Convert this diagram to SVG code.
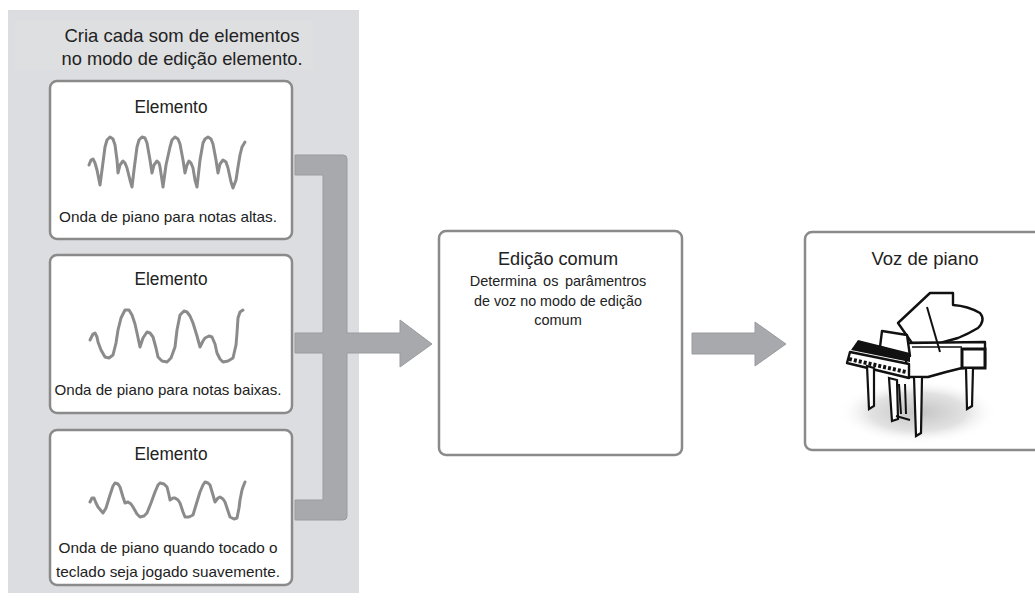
<svg xmlns="http://www.w3.org/2000/svg" width="1035" height="601" viewBox="0 0 1035 601">
  <style>
    .box { fill: #ffffff; stroke: #8a8a8a; stroke-width: 2.5; }
    .t { font-family: "Liberation Sans", Arial, sans-serif; fill: #222222; text-anchor: middle; }
    .h { font-size: 19px; }
    .ttl { font-size: 18px; }
    .cap { font-size: 15px; }
    .sub { font-size: 14.5px; }
    .wave { fill: none; stroke: #8b8b8b; stroke-width: 3; stroke-linejoin: round; stroke-linecap: round; }
    .bar { fill: #a8a9ac; stroke: #9a9b9e; stroke-width: 1; }
    .ink { stroke: #111111; stroke-width: 2.4; stroke-linejoin: round; fill: #ffffff; }
  </style>
  <defs>
    <radialGradient id="floor" cx="0.5" cy="0.5" r="0.5">
      <stop offset="0" stop-color="#c4c4c4"/>
      <stop offset="0.6" stop-color="#e2e2e2"/>
      <stop offset="1" stop-color="#ffffff" stop-opacity="0"/>
    </radialGradient>
  </defs>

  <rect width="1035" height="601" fill="#ffffff"/>

  <!-- element edit panel -->
  <g id="element-panel">
    <rect x="8" y="10" width="351" height="583" fill="#dcdde0"/>
    <rect x="15" y="20" width="298" height="50" fill="#dedfe1"/>
    <text class="t h" x="182" y="42" textLength="235" lengthAdjust="spacingAndGlyphs">Cria cada som de elementos</text>
    <text class="t h" x="182" y="65" textLength="241" lengthAdjust="spacingAndGlyphs">no modo de edição elemento.</text>
  </g>

  <!-- connectors -->
  <g id="connectors">
    <path class="bar" d="M295,155 H343 Q347,155 347,159 V333 H400 V320 L432,344 L400,367 V353 H347 V516 Q347,520 343,520 H295 V500 H323 V353 H295 V333 H323 V175 H295 Z"/>
    <path class="bar" d="M692,333 H755 V322 L786,344 L755,366 V354 H692 Z"/>
  </g>

  <g id="element-1">
    <rect class="box" x="50" y="81" width="242" height="158" rx="7"/>
    <text class="t ttl" x="171" y="113" textLength="73" lengthAdjust="spacingAndGlyphs">Elemento</text>
    <polyline class="wave" points="89,165 91,160 93,159 95,163 97,170 100,185 102,170 105,147 107,140 110,137 113,139 115,145 117,160 118,173 120,165 123,161 125,163 127,168 130,180 132,187 134,170 137,147 139,140 142,137 145,138 147,143 150,160 152,173 154,165 157,161 159,163 160,167 162,180 163,187 166,165 170,147 172,140 175,137 178,139 180,144 183,160 185,173 187,165 189,161 191,163 193,168 195,180 197,187 200,160 203,143 205,139 208,137 211,139 213,144 216,160 218,173 220,164 223,160 226,162 228,168 231,182 233,188 236,180 238,167 240,155 242,147 245,142"/>
    <text class="t cap" x="168" y="222" textLength="218" lengthAdjust="spacingAndGlyphs">Onda de piano para notas altas.</text>
  </g>

  <g id="element-2">
    <rect class="box" x="50" y="255" width="242" height="158" rx="7"/>
    <text class="t ttl" x="171" y="285" textLength="73" lengthAdjust="spacingAndGlyphs">Elemento</text>
    <polyline class="wave" points="90,340 93,334 95,333 97,337 98,342 101,350 105,357 109,358 113,355 116,343 118,330 121,318 125,310 129,310 132,315 135,324 137,333 140,347 143,338 147,332 150,333 153,337 156,348 158,357 162,361 167,362 171,358 175,347 177,330 180,315 184,311 187,312 190,316 193,323 197,336 200,347 203,341 205,338 209,336 212,337 215,344 217,353 220,359 223,362 228,361 233,358 236,345 237,333 238,318 240,312 243,310"/>
    <text class="t cap" x="168" y="395" textLength="227" lengthAdjust="spacingAndGlyphs">Onda de piano para notas baixas.</text>
  </g>

  <g id="element-3">
    <rect class="box" x="50" y="430" width="242" height="155" rx="7"/>
    <text class="t ttl" x="171" y="460" textLength="73" lengthAdjust="spacingAndGlyphs">Elemento</text>
    <polyline class="wave" points="90,502 92,498 94,498 96,503 98,507 103,513 106,508 110,495 113,486 115,483 118,484 120,487 123,497 125,503 128,502 131,504 133,507 137,514 140,517 144,516 147,513 151,503 155,492 158,485 160,483 164,484 167,487 169,495 170,500 173,498 175,498 178,500 180,503 183,512 185,517 189,517 193,515 196,505 200,492 203,485 205,482 208,483 210,485 213,495 215,502 218,498 220,497 223,499 225,502 228,511 230,517 234,519 237,518 239,508 240,500 242,490 243,487 245,482"/>
    <text class="t cap" x="168" y="553" textLength="219" lengthAdjust="spacingAndGlyphs">Onda de piano quando tocado  o</text>
    <text class="t cap" x="168" y="577" textLength="224" lengthAdjust="spacingAndGlyphs">teclado seja jogado suavemente.</text>
  </g>

  <g id="common-edit">
    <rect class="box" x="439" y="231" width="243" height="224" rx="7"/>
    <text class="t h" x="558" y="265" textLength="120" lengthAdjust="spacingAndGlyphs">Edição comum</text>
    <text class="t sub" x="558" y="286" word-spacing="2.5">Determina os parâmentros</text>
    <text class="t sub" x="558" y="306" textLength="168" lengthAdjust="spacingAndGlyphs">de voz no modo de edição</text>
    <text class="t sub" x="558" y="325">comum</text>
  </g>

  <g id="piano-voice">
    <rect class="box" x="805" y="232" width="245" height="218" rx="7"/>
    <text class="t ttl" x="925" y="265" textLength="107" lengthAdjust="spacingAndGlyphs">Voz de piano</text>
    <!-- grand piano drawing -->
    <g id="piano">
      <ellipse cx="918" cy="412" rx="80" ry="32" fill="url(#floor)"/>
      <!-- raised lid -->
      <path class="ink" d="M898,323 L930,293 L953,293 L953,305 Q968,306 980,313 Q986,320 978,328 Q968,334 958,338 L940,343 L912,343 Z"/>
      <!-- case side -->
      <path class="ink" d="M905,343 L985,342 L985,366 L962,368 Q945,372 928,377 L907,377 Z"/>
      <path fill="none" stroke="#111" stroke-width="1.5" d="M912,347 L962,347"/>
      <rect x="962" y="349" width="23" height="19" fill="#ffffff" stroke="#111" stroke-width="3"/>
      <!-- lid prop -->
      <path fill="none" stroke="#111" stroke-width="2" d="M927,307 L940,352"/>
      <!-- music stand -->
      <path class="ink" d="M882,331 L907,335 L910,356 L880,347 Z"/>
      <!-- key cover and keys -->
      <path fill="#111" d="M858,340 L910,353 L910,362 L851,350 Z"/>
      <path class="ink" d="M850,352 L909,364 L909,378 L847,363 Z"/>
      <path fill="none" stroke="#111" stroke-width="4" stroke-dasharray="3 2" d="M849,359 L906,372"/>
      <!-- legs -->
      <path fill="#ffffff" stroke="#111" stroke-width="2.2" d="M867,366 L874,368 L874,406 L869,409 Z"/>
      <path fill="#ffffff" stroke="#111" stroke-width="2.2" d="M889,378 L897,380 L898,419 L892,421 Z"/>
      <path fill="#ffffff" stroke="#111" stroke-width="2.2" d="M914,377 L922,377 L921,433 L916,436 Z"/>
      <path fill="#ffffff" stroke="#111" stroke-width="2.2" d="M966,368 L973,368 L972,406 L967,409 Z"/>
      <!-- pedal lyre -->
      <path fill="none" stroke="#111" stroke-width="2" d="M899,384 L901,414 M905,384 L906,414 M896,416 L910,420"/>
    </g>
  </g>
</svg>
